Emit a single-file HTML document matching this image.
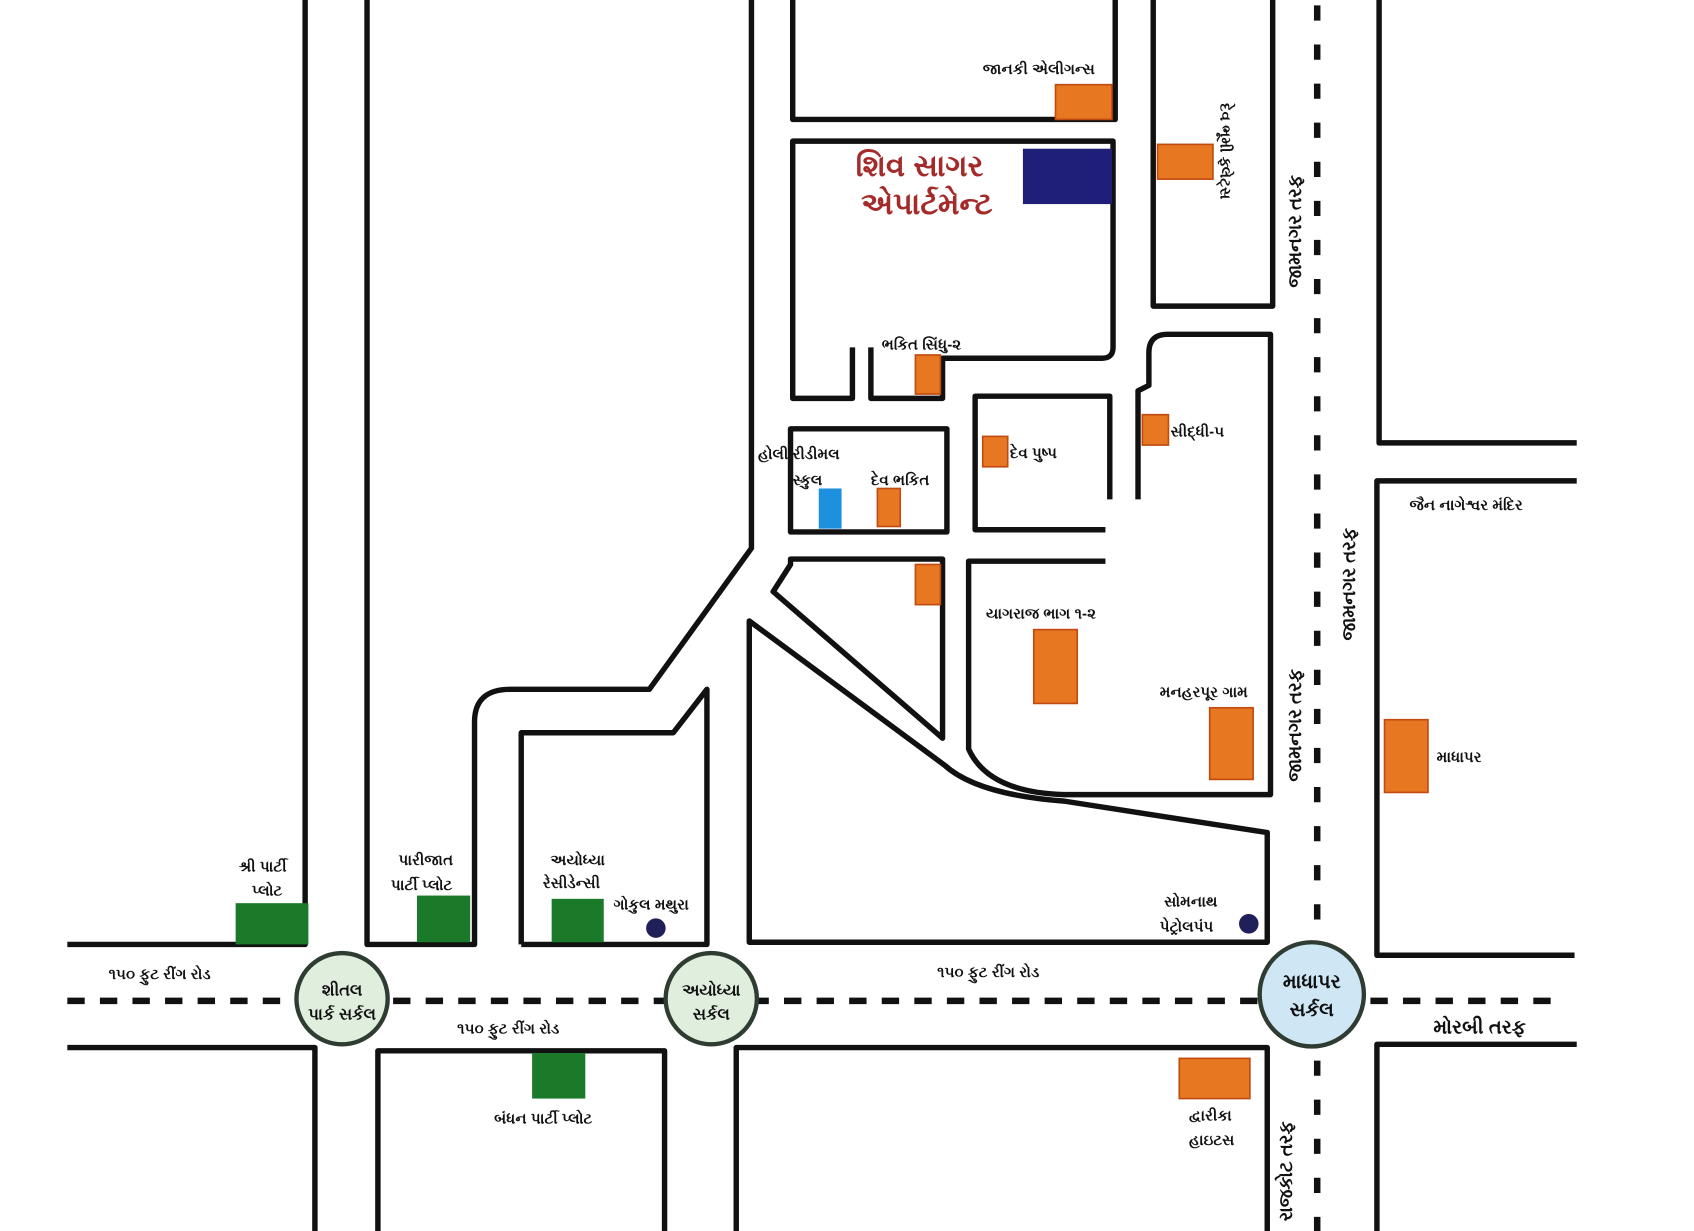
<!DOCTYPE html>
<html><head><meta charset="utf-8"><style>
html,body{margin:0;padding:0;background:#fff;width:1694px;height:1231px;overflow:hidden}
svg{display:block}
text{font-family:"Liberation Sans","Noto Sans CJK SC",sans-serif;fill:#111;font-size:14px;font-weight:bold}
</style></head><body>
<svg width="1694" height="1231" viewBox="0 0 1560 1134" preserveAspectRatio="none" xmlns="http://www.w3.org/2000/svg">
<g fill="none" stroke="#111" stroke-width="5" stroke-linejoin="round">
<path d="M281 0V870H62"/>
<path d="M338 0V870H437V665Q437 635 470 635H598L692 505V0"/>
<path d="M480 870V675H620L651 635V870H480"/>
<path d="M690 868V572L870 705Q900 732 980 738L1167 767V868Z"/>
<path d="M728 520L728 515H868V680L712 545Z"/>
<path d="M1018 517H892V690Q910 730 980 732H1170V308H1075Q1058 308 1058 325V355L1048 360V460"/>
<path d="M1022 460V365H898V488H1018"/>
<path d="M728 395H872V490H728Z"/>
<path d="M785 320V367H730V130H1025V320Q1025 330 1015 330H868V367H802V320"/>
<path d="M730 0V110H1027V0"/>
<path d="M1062 0V282H1172V0"/>
<path d="M1270 0V408H1452"/>
<path d="M1452 443H1268V880H1450"/>
<path d="M62 965H290V1134"/>
<path d="M348 1134V968H612V1134"/>
<path d="M678 1134V965H1167V1134"/>
<path d="M1268 1134V962H1452"/>
</g>
<g stroke="#111" stroke-width="6">
<path d="M62 922H1430" stroke-dasharray="16 14"/>
<path d="M1213 5V1134" stroke-dasharray="14 22"/>
</g>
<g fill="#e87722" stroke="#c04a10" stroke-width="1.5">
<rect x="972" y="78" width="52" height="32"/>
<rect x="1066" y="133" width="51" height="32"/>
<rect x="843" y="327" width="23" height="36"/>
<rect x="905" y="402" width="23" height="28"/>
<rect x="1052" y="382" width="24" height="28"/>
<rect x="808" y="450" width="21" height="35"/>
<rect x="843" y="520" width="23" height="37"/>
<rect x="952" y="580" width="40" height="68"/>
<rect x="1114" y="652" width="40" height="66"/>
<rect x="1275" y="663" width="40" height="67"/>
<rect x="1086" y="975" width="65" height="37"/>
</g>
<rect x="754" y="450" width="21" height="37" fill="#1e90e0"/>
<rect x="942" y="137" width="82" height="51" fill="#1f1f7a"/>
<g fill="#1b7a2a">
<rect x="217" y="832" width="67" height="38"/>
<rect x="384" y="825" width="49" height="43"/>
<rect x="508" y="828" width="48" height="40"/>
<rect x="490" y="970" width="49" height="42"/>
</g>
<circle cx="604" cy="855" r="9" fill="#1f1f5a"/>
<circle cx="1150" cy="851" r="9" fill="#1f1f5a"/>
<circle cx="315" cy="920" r="42" fill="#dfeedd" stroke="#2f3c32" stroke-width="4"/>
<circle cx="655" cy="920" r="42" fill="#dfeedd" stroke="#2f3c32" stroke-width="4"/>
<circle cx="1208" cy="916" r="48" fill="#cfe6f5" stroke="#2f3c32" stroke-width="4"/>
<text x="905" y="68">જાનકી એલીગન્સ</text>
<text x="788" y="162" style="font-size:28px;fill:#a52a2a">શિવ સાગર</text>
<text x="793" y="197" style="font-size:28px;fill:#a52a2a">એપાર્ટમેન્ટ</text>
<text transform="translate(1124,95) rotate(90)">દેવ ભૂમી ફ્લેટ્સ</text>
<text transform="translate(1198,265) rotate(-90)" style="font-size:17px">જામનગર તરફ</text>
<text transform="translate(1248,590) rotate(-90)" style="font-size:17px">જામનગર તરફ</text>
<text transform="translate(1198,720) rotate(-90)" style="font-size:17px">જામનગર તરફ</text>
<text transform="translate(1190,1125) rotate(-90)" style="font-size:17px">રાજકોટ તરફ</text>
<text x="812" y="322">ભકિત સિંધુ-૨</text>
<text x="1078" y="402">સીદ્ધી-૫</text>
<text x="698" y="423">હોલી રીડીમલ</text>
<text x="730" y="447">સ્કુલ</text>
<text x="802" y="447">દેવ ભકિત</text>
<text x="930" y="422">દેવ પુષ્પ</text>
<text x="1298" y="470">જૈન નાગેશ્વર મંદિર</text>
<text x="908" y="570">યાગરાજ ભાગ ૧-૨</text>
<text x="1068" y="642">મનહરપૂર ગામ</text>
<text x="1323" y="702">માધાપર</text>
<text x="220" y="803">શ્રી પાર્ટી</text>
<text x="232" y="825">પ્લોટ</text>
<text x="367" y="797">પારીજાત</text>
<text x="360" y="820">પાર્ટી પ્લોટ</text>
<text x="507" y="797">અયોધ્યા</text>
<text x="500" y="818">રેસીડેન્સી</text>
<text x="565" y="838">ગોકુલ મથુરા</text>
<text x="1072" y="835">સોમનાથ</text>
<text x="1068" y="858">પેટ્રોલપંપ</text>
<text x="100" y="902">૧૫૦ ફુટ રીંગ રોડ</text>
<text x="863" y="900">૧૫૦ ફુટ રીંગ રોડ</text>
<text x="421" y="952">૧૫૦ ફુટ રીંગ રોડ</text>
<text x="315" y="917" text-anchor="middle" style="font-size:15px">શીતલ</text>
<text x="315" y="939" text-anchor="middle" style="font-size:15px">પાર્ક સર્કલ</text>
<text x="655" y="917" text-anchor="middle" style="font-size:15px">અયોધ્યા</text>
<text x="655" y="939" text-anchor="middle" style="font-size:15px">સર્કલ</text>
<text x="1208" y="910" text-anchor="middle" style="font-size:18px">માધાપર</text>
<text x="1208" y="936" text-anchor="middle" style="font-size:18px">સર્કલ</text>
<text x="1320" y="952" style="font-size:18px">મોરબી તરફ</text>
<text x="455" y="1035">બંધન પાર્ટી પ્લોટ</text>
<text x="1095" y="1032">દ્વારીકા</text>
<text x="1095" y="1055">હાઇટસ</text>
</svg>
</body></html>
